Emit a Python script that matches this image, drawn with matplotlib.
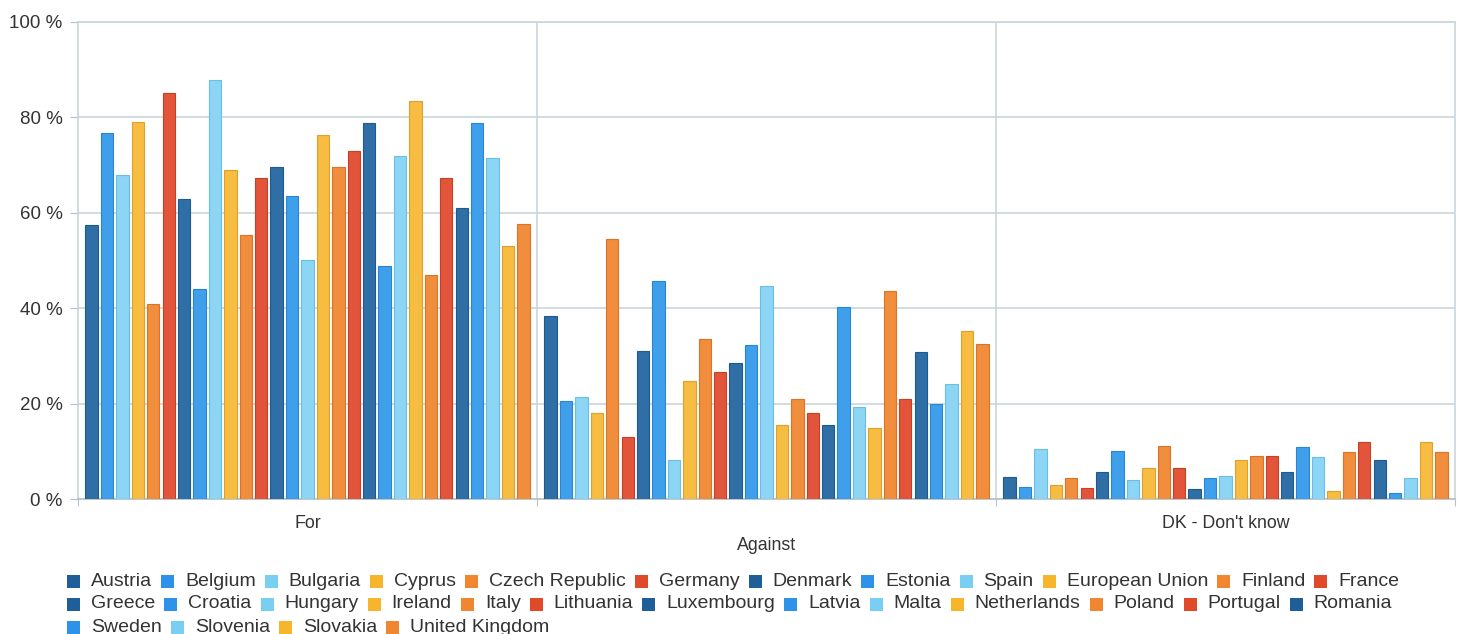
import numpy as np
import matplotlib.pyplot as plt
from matplotlib.patches import Rectangle

# Data
categories = ['For', 'Against', "DK - Don't know"]
countries = ['Austria', 'Belgium', 'Bulgaria', 'Cyprus', 'Czech Republic', 'Germany',
             'Denmark', 'Estonia', 'Spain', 'European Union', 'Finland', 'France',
             'Greece', 'Croatia', 'Hungary', 'Ireland', 'Italy', 'Lithuania',
             'Luxembourg', 'Latvia', 'Malta', 'Netherlands', 'Poland', 'Portugal',
             'Romania', 'Sweden', 'Slovenia', 'Slovakia', 'United Kingdom']
for_vals = [57.4, 76.7, 67.9, 79.0, 40.8, 85.1, 62.8, 44.1, 87.9, 68.9, 55.4, 67.2,
            69.7, 63.5, 50.2, 76.4, 69.6, 73.0, 78.8, 48.8, 72.0, 83.5, 46.9, 67.2,
            61.1, 78.8, 71.5, 53.0, 57.6]
against_vals = [38.3, 20.6, 21.3, 18.0, 54.5, 12.9, 31.1, 45.8, 8.2, 24.7, 33.6, 26.7,
                28.5, 32.2, 44.7, 15.5, 21.0, 18.0, 15.5, 40.3, 19.2, 14.9, 43.7, 21.0,
                30.8, 20.0, 24.1, 35.2, 32.5]
dk_vals = [4.7, 2.6, 10.5, 2.9, 4.3, 2.3, 5.7, 10.1, 4.0, 6.4, 11.2, 6.4,
           2.0, 4.3, 4.9, 8.1, 9.0, 9.0, 5.7, 10.8, 8.8, 1.6, 9.8, 11.9,
           8.1, 1.2, 4.3, 11.9, 9.8]

palette = ['#2f6fa6', '#3f9fea', '#8dd5f4', '#f6bd42', '#f08e3e', '#e3553a']
edges = ['#1e5b90', '#2a86d4', '#68bfe6', '#dea02a', '#dc7326', '#c54126']
legend_colors = ['#1f5f99', '#2e93e8', '#79cff2', '#f7b52c', '#f0862f', '#df4a2b']

plt.rcParams['font.family'] = ['Liberation Sans', 'DejaVu Sans']

W, H = 1463, 634
fig = plt.figure(figsize=(W / 100, H / 100), dpi=100)
ax = fig.add_axes([78 / W, (H - 499) / H, 1377 / W, 477 / H])

values = np.array([for_vals, against_vals, dk_vals])
x = np.arange(len(categories))
n = len(countries)
step = 0.0336
width = 0.027
for i, name in enumerate(countries):
    off = (i - (n - 1) / 2) * step
    ax.bar(x + off, values[:, i], width, color=palette[i % 6],
           edgecolor=edges[i % 6], linewidth=0.8, label=name, zorder=3)

ax.set_xlim(-0.5, 2.5)
ax.set_ylim(0, 100)
ax.set_yticks(range(0, 101, 20))
ax.set_yticklabels([f'{v} %' for v in range(0, 101, 20)], fontsize=13.5, color='#333333')
ax.tick_params(axis='y', length=6, color='#b5c0c8', pad=5)
ax.set_xticks([-0.5, 0.5, 1.5, 2.5])
ax.set_xticklabels([])
ax.tick_params(axis='x', length=5, color='#b5c0c8', direction='out')

grid_c = '#cbd5dc'
for v in range(20, 101, 20):
    ax.axhline(v, color=grid_c, lw=1.2, zorder=1)
for v in [0.5, 1.5]:
    ax.axvline(v, color=grid_c, lw=1.2, zorder=1)
for s in ax.spines.values():
    s.set_color(grid_c)
    s.set_linewidth(1.2)
ax.spines['bottom'].set_color('#b0bcc4')

# category labels (middle one staggered)
label_off = [-24, -46, -24]
for xi, lab, dy in zip(x, categories, label_off):
    ax.annotate(lab, xy=(xi, 0), xycoords=('data', 'axes fraction'),
                xytext=(0, dy), textcoords='offset pixels',
                ha='center', va='center', fontsize=12.8, color='#333333')

# legend in flow layout
rows = [(0, 12), (12, 25), (25, 29)]
row_y = [581, 604, 627]
renderer = fig.canvas.get_renderer()
sq = 13
for (a, b), yc in zip(rows, row_y):
    xp = 67
    for i in range(a, b):
        fig.patches.append(Rectangle((xp / W, (H - yc - sq / 2) / H), sq / W, sq / H,
                                     transform=fig.transFigure, facecolor=legend_colors[i % 6],
                                     edgecolor='none'))
        t = fig.text((xp + sq + 11) / W, (H - yc) / H, countries[i], fontsize=14,
                     color='#333333', va='center', ha='left')
        tw = t.get_window_extent(renderer).width
        xp = xp + sq + 11 + tw + 9

fig.savefig('out.png', dpi=100)
